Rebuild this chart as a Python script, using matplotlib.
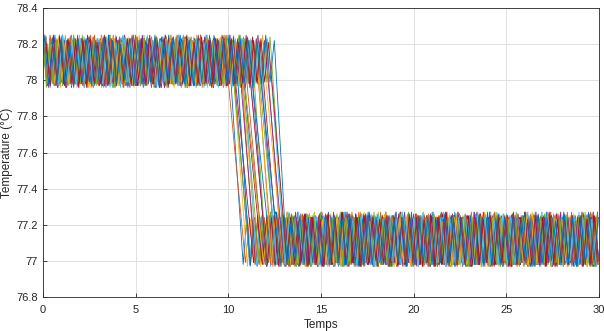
import numpy as np
import matplotlib
matplotlib.use("Agg")
import matplotlib.pyplot as plt

plt.rcParams['font.family'] = ['Liberation Sans', 'DejaVu Sans']

# ---- data ----
x_ticks = [0, 5, 10, 15, 20, 25, 30]
y_ticks = [76.8, 77.0, 77.2, 77.4, 77.6, 77.8, 78.0, 78.2, 78.4]
y_tick_labels = ['76.8', '77', '77.2', '77.4', '77.6', '77.8', '78', '78.2', '78.4']

# oscillation levels (peaks / troughs) before and after the drop
upper_hi = [78.22, 78.23, 78.21, 78.24, 78.22, 78.20, 78.23, 78.22, 78.21, 78.25, 78.22, 78.23, 78.21]
upper_lo = [77.98, 77.97, 77.99, 77.98, 78.00, 77.97, 77.98, 77.99, 77.96, 77.98, 77.99]
lower_hi = [77.24, 77.23, 77.25, 77.24, 77.22, 77.26, 77.24, 77.23, 77.25, 77.24, 77.27, 77.23, 77.24, 77.25]
lower_lo = [76.98, 76.99, 76.97, 76.98, 77.00, 76.98, 76.99, 76.97, 76.98, 76.99]

# per-series drop start time, drop duration, sample offset, sample step
drop_start = [10.10, 10.15, 10.22, 10.28, 10.33, 10.40, 10.46, 10.52, 10.58, 10.65,
              10.72, 10.78, 10.85, 10.92, 11.00, 11.06, 11.13, 11.20, 11.27, 11.34,
              11.41, 11.48, 11.55, 11.62, 11.70, 11.77, 11.84, 11.92, 12.00, 12.07,
              12.14, 12.21, 12.28, 12.35, 12.42, 12.48]
drop_len = [0.70, 0.75, 0.65, 0.72, 0.68, 0.74, 0.70, 0.66, 0.73, 0.69,
            0.71, 0.75, 0.67, 0.70, 0.72, 0.68, 0.74, 0.70, 0.66, 0.73,
            0.69, 0.71, 0.75, 0.70, 0.68, 0.72, 0.66, 0.74, 0.70, 0.69,
            0.73, 0.67, 0.71, 0.70, 0.72, 0.68]
offsets = [0.00, 0.11, 0.05, 0.16, 0.02, 0.13, 0.08, 0.18, 0.04, 0.15,
           0.09, 0.01, 0.12, 0.07, 0.17, 0.03, 0.14, 0.10, 0.06, 0.19,
           0.00, 0.12, 0.05, 0.15, 0.08, 0.02, 0.17, 0.11, 0.04, 0.14,
           0.07, 0.19, 0.01, 0.10, 0.16, 0.06]
steps = [0.20, 0.23, 0.18, 0.25, 0.21, 0.19, 0.24, 0.22, 0.17, 0.26,
         0.20, 0.22, 0.19, 0.24, 0.21, 0.18, 0.25, 0.23, 0.20, 0.17,
         0.22, 0.26, 0.19, 0.21, 0.24, 0.18, 0.23, 0.20, 0.25, 0.22,
         0.19, 0.21, 0.17, 0.24, 0.20, 0.23]

colors = ['#0072BD', '#D95319', '#EDB120', '#7E2F8E', '#77AC30', '#4DBEEE', '#A2142F']

W, H = 604, 331
fig = plt.figure(figsize=(W / 100, H / 100), dpi=100)
ax = fig.add_axes([43 / W, 1 - 297 / H, (599 - 43) / W, (297 - 8) / H])

for i, (ts, dl, off, step) in enumerate(zip(drop_start, drop_len, offsets, steps)):
    tt = []
    vv = []
    k = 0
    t = off
    while t <= ts:
        if k % 2 == 0:
            v = upper_hi[(k // 2 + i) % len(upper_hi)]
        else:
            v = upper_lo[(k // 2 + 3 * i) % len(upper_lo)]
        tt.append(t)
        vv.append(v)
        k += 1
        t = off + k * step
    t_end = ts + dl
    parity = None
    while t <= 30.0 + 1e-9:
        if t < t_end:
            k += 1
            t = off + k * step
            continue
        if parity is None:
            parity = k % 2
            v = lower_lo[i % len(lower_lo)]
        elif k % 2 != parity:
            v = lower_hi[(k // 2 + 2 * i) % len(lower_hi)]
        else:
            v = lower_lo[(k // 2 + 5 * i) % len(lower_lo)]
        tt.append(t)
        vv.append(v)
        k += 1
        t = off + k * step
    ax.plot(tt, vv, color=colors[i % len(colors)], lw=0.6)

ax.set_xlim(0, 30)
ax.set_ylim(76.8, 78.4)
ax.set_xticks(x_ticks)
ax.set_yticks(y_ticks)
ax.set_yticklabels(y_tick_labels)
ax.grid(True, color='#dcdcdc', lw=0.6)
ax.set_axisbelow(True)
ax.tick_params(direction='in', length=3, labelsize=8, colors='#262626', width=0.6)
ax.tick_params(axis='x', pad=6)
for s in ax.spines.values():
    s.set_color('#262626')
    s.set_linewidth(0.6)
ax.set_xlabel('Temps', fontsize=8.5, color='#262626')
ax.set_ylabel('Temperature (°C)', fontsize=8.5, color='#262626')
ax.xaxis.set_label_coords(0.5, -0.076)
ax.yaxis.set_label_coords(-0.064, 0.5)
ax.yaxis.label.set_va('center')

fig.savefig('out.png', dpi=100)
